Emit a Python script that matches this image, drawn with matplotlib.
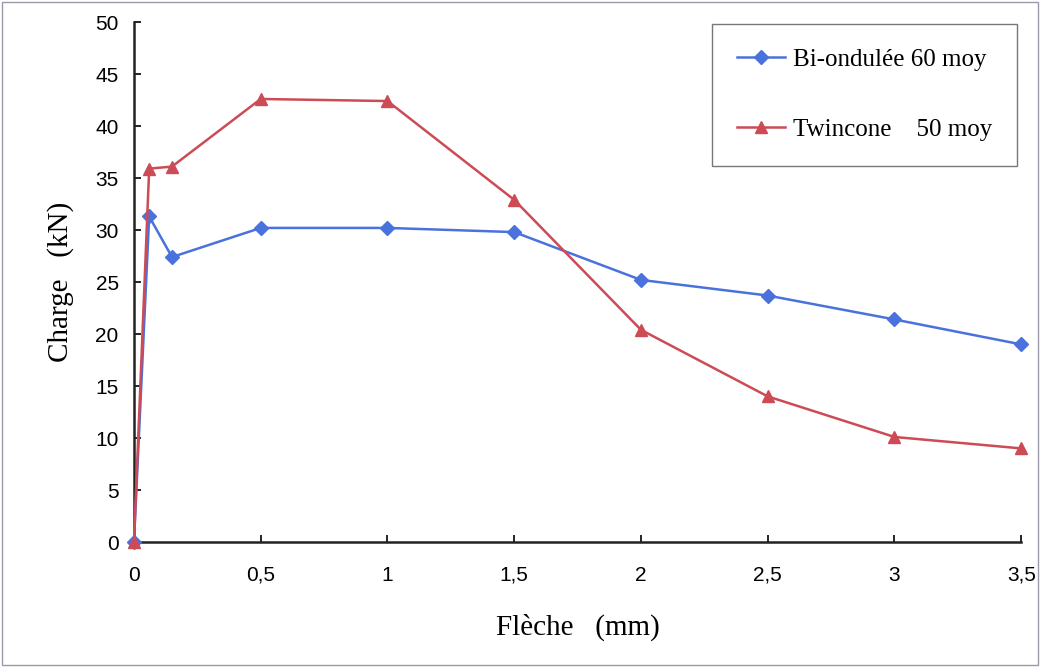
import matplotlib
matplotlib.use("Agg")
import matplotlib.pyplot as plt
from matplotlib.patches import Rectangle

# Data
fleche_bi = [0, 0.06, 0.15, 0.5, 1, 1.5, 2, 2.5, 3, 3.5]
charge_bi = [0, 31.3, 27.4, 30.2, 30.2, 29.8, 25.2, 23.7, 21.4, 19.0]

fleche_tw = [0, 0.06, 0.15, 0.5, 1, 1.5, 2, 2.5, 3, 3.5]
charge_tw = [0, 35.9, 36.1, 42.6, 42.4, 32.9, 20.4, 14.0, 10.1, 9.0]

xticks = [0, 0.5, 1, 1.5, 2, 2.5, 3, 3.5]
xtick_labels = ["0", "0,5", "1", "1,5", "2", "2,5", "3", "3,5"]
yticks = list(range(0, 51, 5))

fig = plt.figure(figsize=(10.41, 6.67), dpi=100)
ax = fig.add_axes([0.1287, 0.1874, 0.8523, 0.7796])

ax.plot(fleche_bi, charge_bi, color="#4a72dc", marker="D", markersize=7,
        linewidth=1.8, label="Bi-ondulée 60 moy", clip_on=False, zorder=3)
ax.plot(fleche_tw, charge_tw, color="#cc4b55", marker="^", markersize=8.5,
        linewidth=1.8, label="Twincone    50 moy", clip_on=False, zorder=4)

ax.set_xlim(0, 3.5)
ax.set_ylim(0, 50)
ax.set_xticks(xticks)
ax.set_xticklabels(xtick_labels, family="Liberation Sans", fontsize=15)
ax.set_yticks(yticks)
ax.set_yticklabels([str(v) for v in yticks], family="Liberation Sans", fontsize=15)
ax.tick_params(direction="in", length=5, width=1.2)
ax.tick_params(axis="x", pad=17)
ax.tick_params(axis="y", pad=11)

for side in ["top", "right"]:
    ax.spines[side].set_visible(False)
for side in ["left", "bottom"]:
    ax.spines[side].set_linewidth(1.8)
    ax.spines[side].set_color("#222222")

ax.set_xlabel("Flèche   (mm)", family="Liberation Serif", fontsize=21, labelpad=21)
ax.set_ylabel("Charge   (kN)", family="Liberation Serif", fontsize=21, labelpad=15)

leg = ax.legend(loc="upper right", bbox_to_anchor=(0.9955, 0.997),
                prop={"family": "Liberation Serif", "size": 18},
                frameon=True, fancybox=False, edgecolor="#555555",
                labelspacing=1.9, borderpad=1.0, borderaxespad=0.0,
                handlelength=1.95, handletextpad=0.3)
leg.get_frame().set_linewidth(1.0)

# thin border around the whole picture
fig.patches.append(Rectangle((0.002, 0.003), 0.995, 0.994, transform=fig.transFigure,
                             fill=False, edgecolor="#9a9aa8", linewidth=1.0))

fig.savefig("out.png", dpi=100)
